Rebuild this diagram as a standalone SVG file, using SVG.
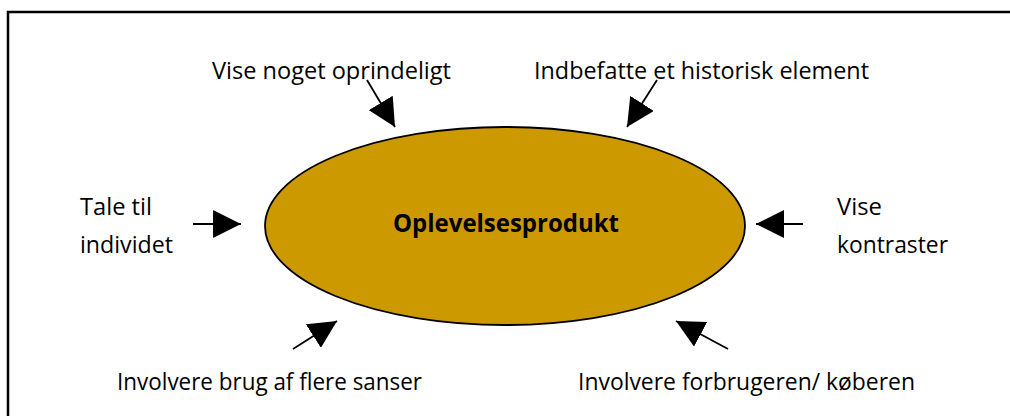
<svg xmlns="http://www.w3.org/2000/svg" width="1010" height="416" viewBox="0 0 1010 416">
<style>
.lbl{font-family:"Open Sans","Noto Sans","Liberation Sans",sans-serif;font-size:23px;fill:#000}
.ttl{font-family:"Open Sans","Noto Sans","Liberation Sans",sans-serif;font-size:25px;font-weight:bold;fill:#000}
.con{stroke:#000;stroke-width:1.8;fill:none;marker-end:url(#ah)}
</style>
<defs>
<marker id="ah" viewBox="0 0 28 28" refX="28" refY="14" markerWidth="28" markerHeight="28" markerUnits="userSpaceOnUse" orient="auto">
<path d="M0,0 L28,14 L0,28 Z" fill="#000"/>
</marker>
</defs>
<rect x="0" y="0" width="1010" height="416" fill="#fff"/>
<rect x="8" y="12" width="1020" height="420" fill="none" stroke="#000" stroke-width="2.5"/>
<g id="center">
<ellipse cx="505" cy="226" rx="240" ry="99" fill="#CC9900" stroke="#000" stroke-width="1.8"/>
<text class="ttl" x="393" y="232" textLength="226" lengthAdjust="spacingAndGlyphs">Oplevelsesprodukt</text>
</g>
<g id="n-oprindeligt"><text class="lbl" x="212" y="79" textLength="239" lengthAdjust="spacingAndGlyphs">Vise noget oprindeligt</text></g>
<g id="n-historisk"><text class="lbl" x="534" y="79" textLength="335" lengthAdjust="spacingAndGlyphs">Indbefatte et historisk element</text></g>
<g id="n-individet">
<text class="lbl" x="80" y="215" textLength="72" lengthAdjust="spacingAndGlyphs">Tale til</text>
<text class="lbl" x="80" y="253" textLength="93" lengthAdjust="spacingAndGlyphs">individet</text>
</g>
<g id="n-kontraster">
<text class="lbl" x="837" y="215" textLength="45" lengthAdjust="spacingAndGlyphs">Vise</text>
<text class="lbl" x="837" y="253" textLength="111" lengthAdjust="spacingAndGlyphs">kontraster</text>
</g>
<g id="n-sanser"><text class="lbl" x="117" y="390" textLength="305" lengthAdjust="spacingAndGlyphs">Involvere brug af flere sanser</text></g>
<g id="n-koeberen"><text class="lbl" x="578" y="390" textLength="337" lengthAdjust="spacingAndGlyphs">Involvere forbrugeren/ køberen</text></g>
<g id="connectors">
<line class="con" x1="367" y1="80" x2="395" y2="127"/>
<line class="con" x1="657" y1="80" x2="627" y2="127"/>
<line class="con" x1="193" y1="224" x2="241" y2="224"/>
<line class="con" x1="803" y1="224" x2="756" y2="224"/>
<line class="con" x1="293" y1="349" x2="337" y2="321"/>
<line class="con" x1="728" y1="349" x2="676" y2="321"/>
</g>
</svg>
